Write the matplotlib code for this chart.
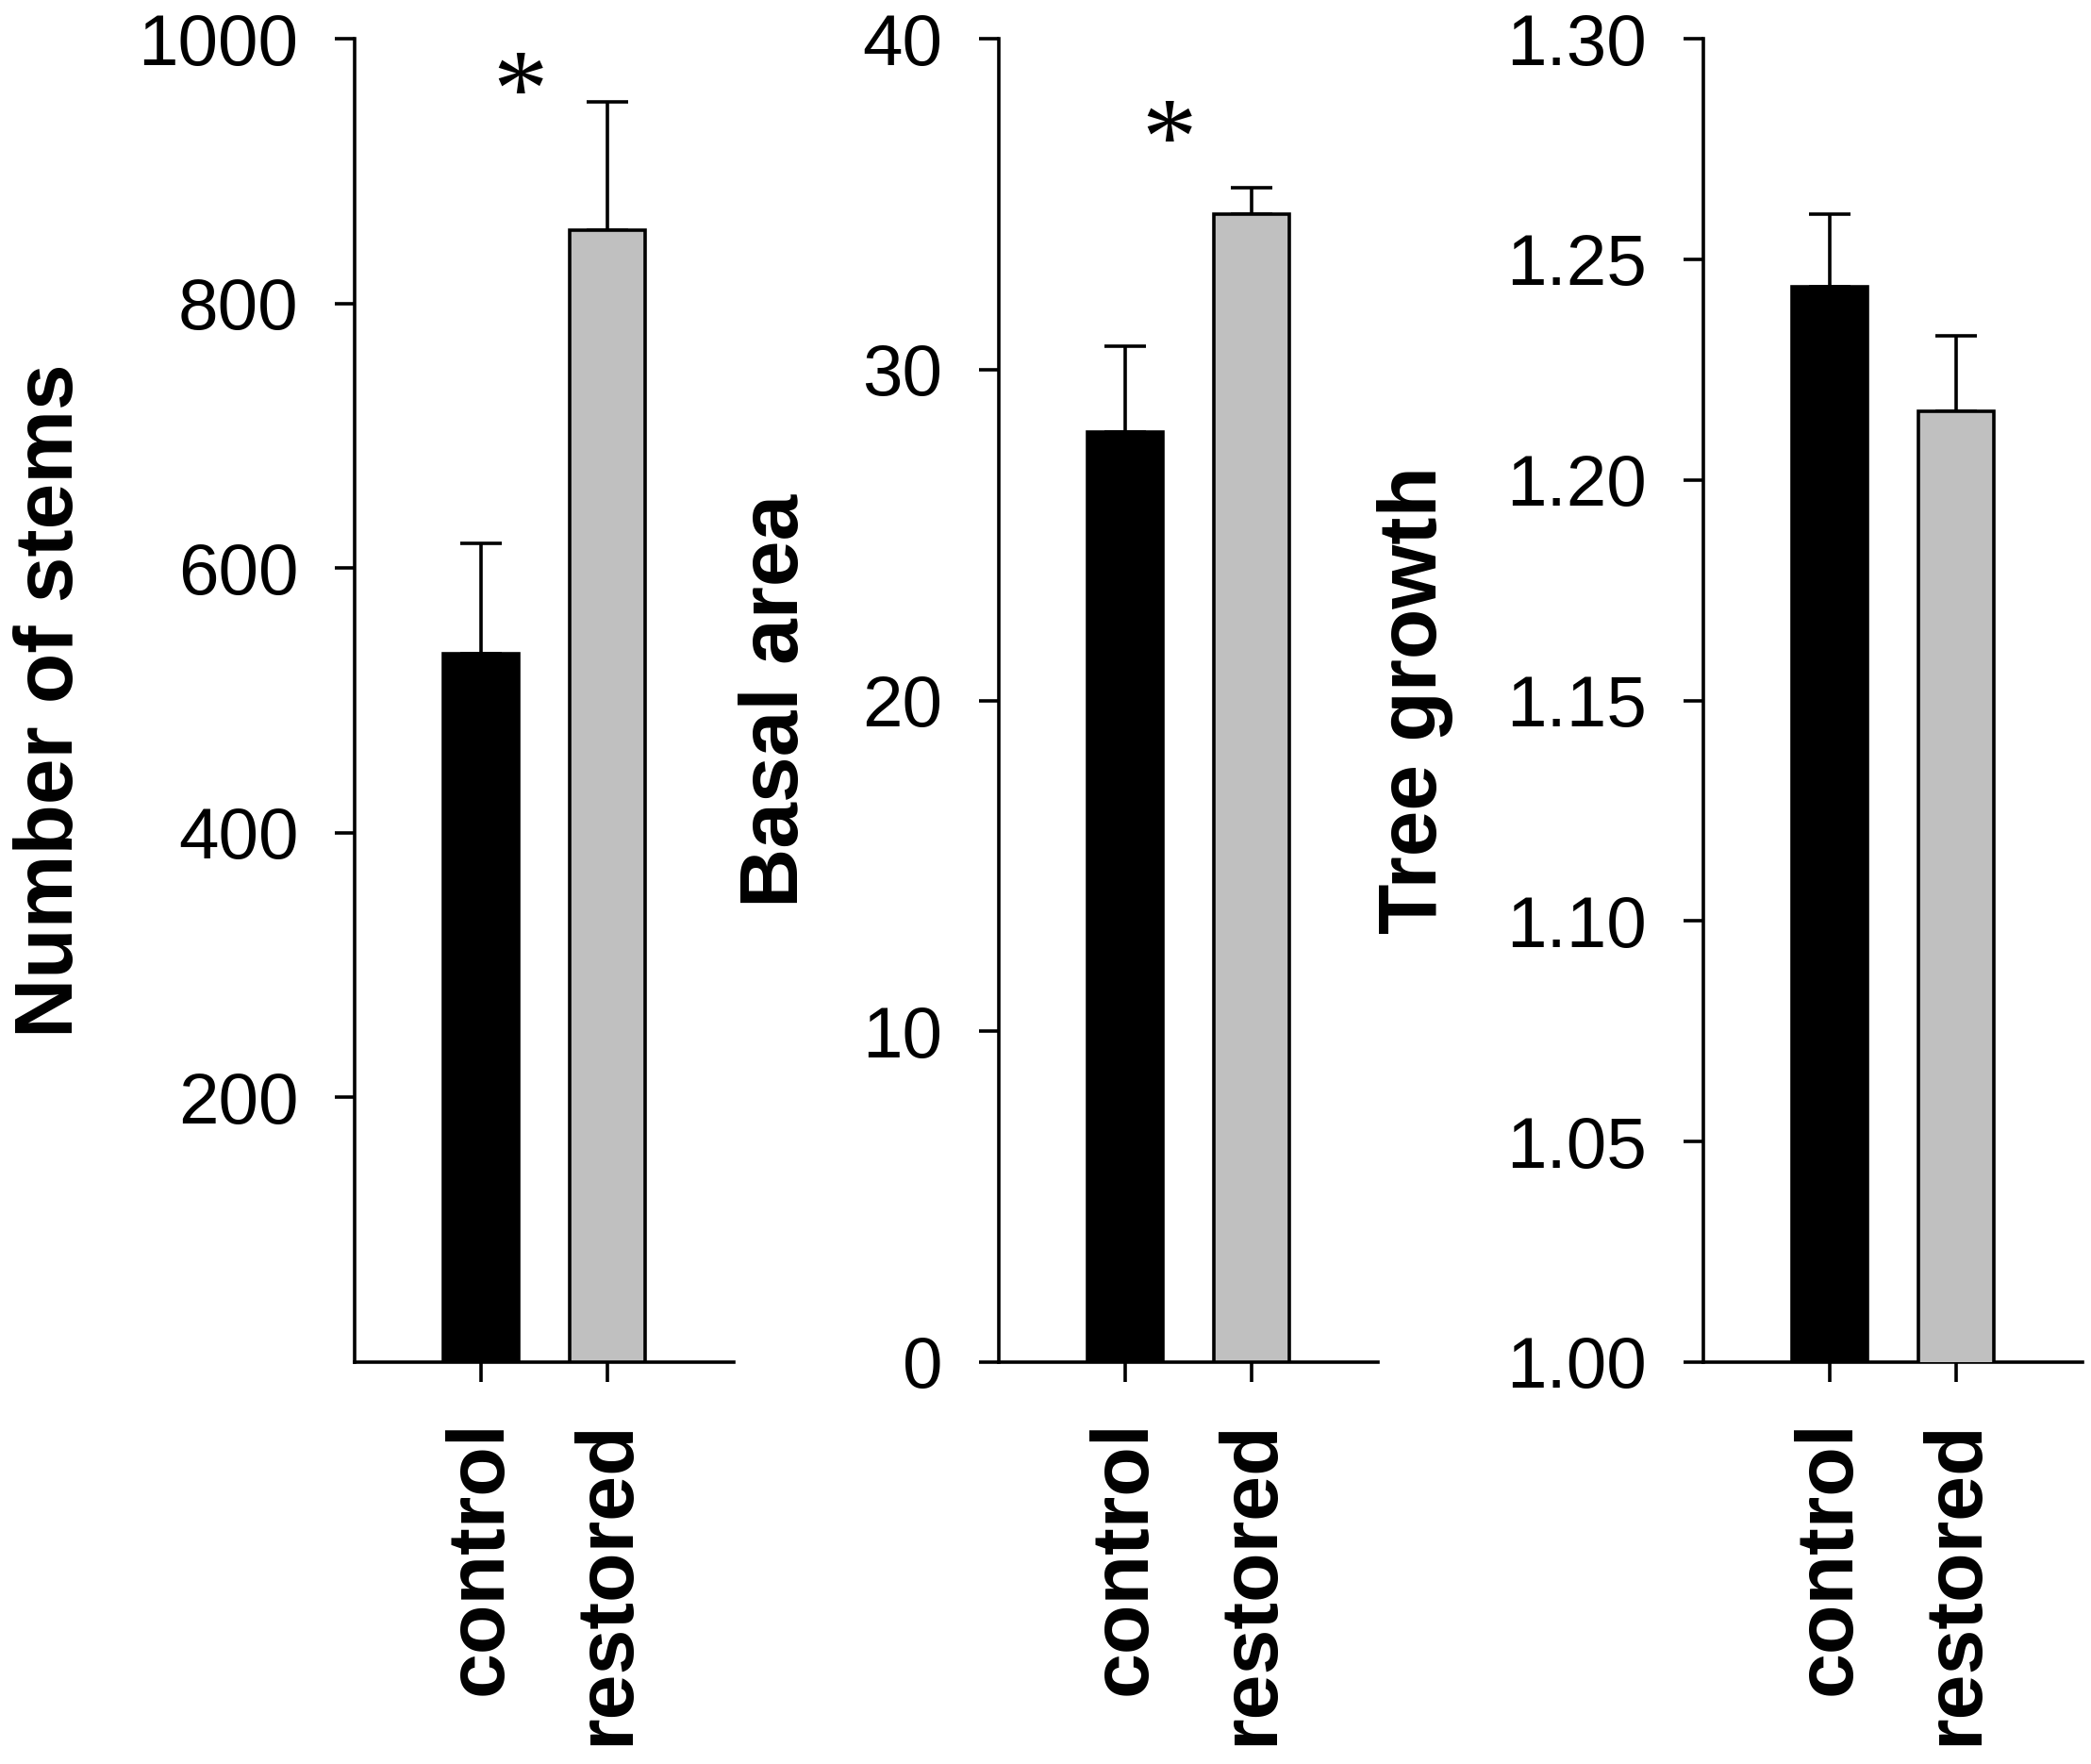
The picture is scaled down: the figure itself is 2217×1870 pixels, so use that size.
import matplotlib
matplotlib.use("Agg")
import matplotlib.pyplot as plt
import numpy as np

plt.rcParams['font.family'] = ['Liberation Sans', 'DejaVu Sans']

# ---- data ----
categories = ["control", "restored"]
stems_mean = [535, 855]
stems_se = [84, 97]
basal_mean = [28.1, 34.7]
basal_se = [2.6, 0.8]
growth_mean = [1.2437, 1.2156]
growth_se = [0.0166, 0.0170]
ylabels = ["Number of stems", "Basal area", "Tree growth"]
bar_colors = ["#000000", "#c0c0c0"]

W, H = 2217, 1870
fig = plt.figure(figsize=(W / 100, H / 100), dpi=100)

bottom = 1 - 1444 / H
height = (1444 - 41) / H
width = 402 / W
lefts = [376 / W, 1059 / W, 1806 / W]

panels = [
    dict(mean=stems_mean, se=stems_se, ylim=(0, 1000), ticks=[200, 400, 600, 800, 1000],
         fmt="{:.0f}", lab_x=-0.70, star=(0.31, 976)),
    dict(mean=basal_mean, se=basal_se, ylim=(0, 40), ticks=[0, 10, 20, 30, 40],
         fmt="{:.0f}", lab_x=-0.485, star=(0.35, 37.6)),
    dict(mean=growth_mean, se=growth_se, ylim=(1.0, 1.3),
         ticks=[1.00, 1.05, 1.10, 1.15, 1.20, 1.25, 1.30],
         fmt="{:.2f}", lab_x=-0.66, star=None),
]

lw = 2.6
for i, p in enumerate(panels):
    ax = fig.add_axes([lefts[i], bottom, width, height])
    x = np.arange(len(categories))
    ax.bar(x, p["mean"], width=0.6, color=bar_colors, edgecolor="black",
           linewidth=lw, zorder=3)
    ax.errorbar(x, p["mean"], yerr=[np.zeros(len(x)), p["se"]], fmt="none",
                ecolor="black", elinewidth=lw, capsize=16, capthick=lw, zorder=2)
    ax.set_xlim(-1.0, 2.0)
    ax.set_ylim(*p["ylim"])
    ax.set_yticks(p["ticks"])
    ax.set_yticklabels([p["fmt"].format(t) for t in p["ticks"]], fontsize=55)
    ax.set_xticks(x)
    ax.set_xticklabels(categories, rotation=90, fontsize=62, fontweight="bold")
    ax.spines["top"].set_visible(False)
    ax.spines["right"].set_visible(False)
    ax.spines["left"].set_linewidth(lw)
    ax.spines["bottom"].set_linewidth(lw)
    ax.tick_params(axis="y", direction="out", length=15, width=lw, pad=28)
    ax.tick_params(axis="x", direction="out", length=15, width=lw, pad=29)
    ax.set_ylabel(ylabels[i], fontsize=63, fontweight="bold")
    ax.yaxis.set_label_coords(p["lab_x"], 0.5)
    if p["star"] is not None:
        ax.annotate("*", xy=p["star"], xytext=(0, -42), textcoords="offset points",
                    ha="center", va="baseline", fontsize=84,
                    family="Liberation Serif")

fig.savefig("out.png", dpi=100)
